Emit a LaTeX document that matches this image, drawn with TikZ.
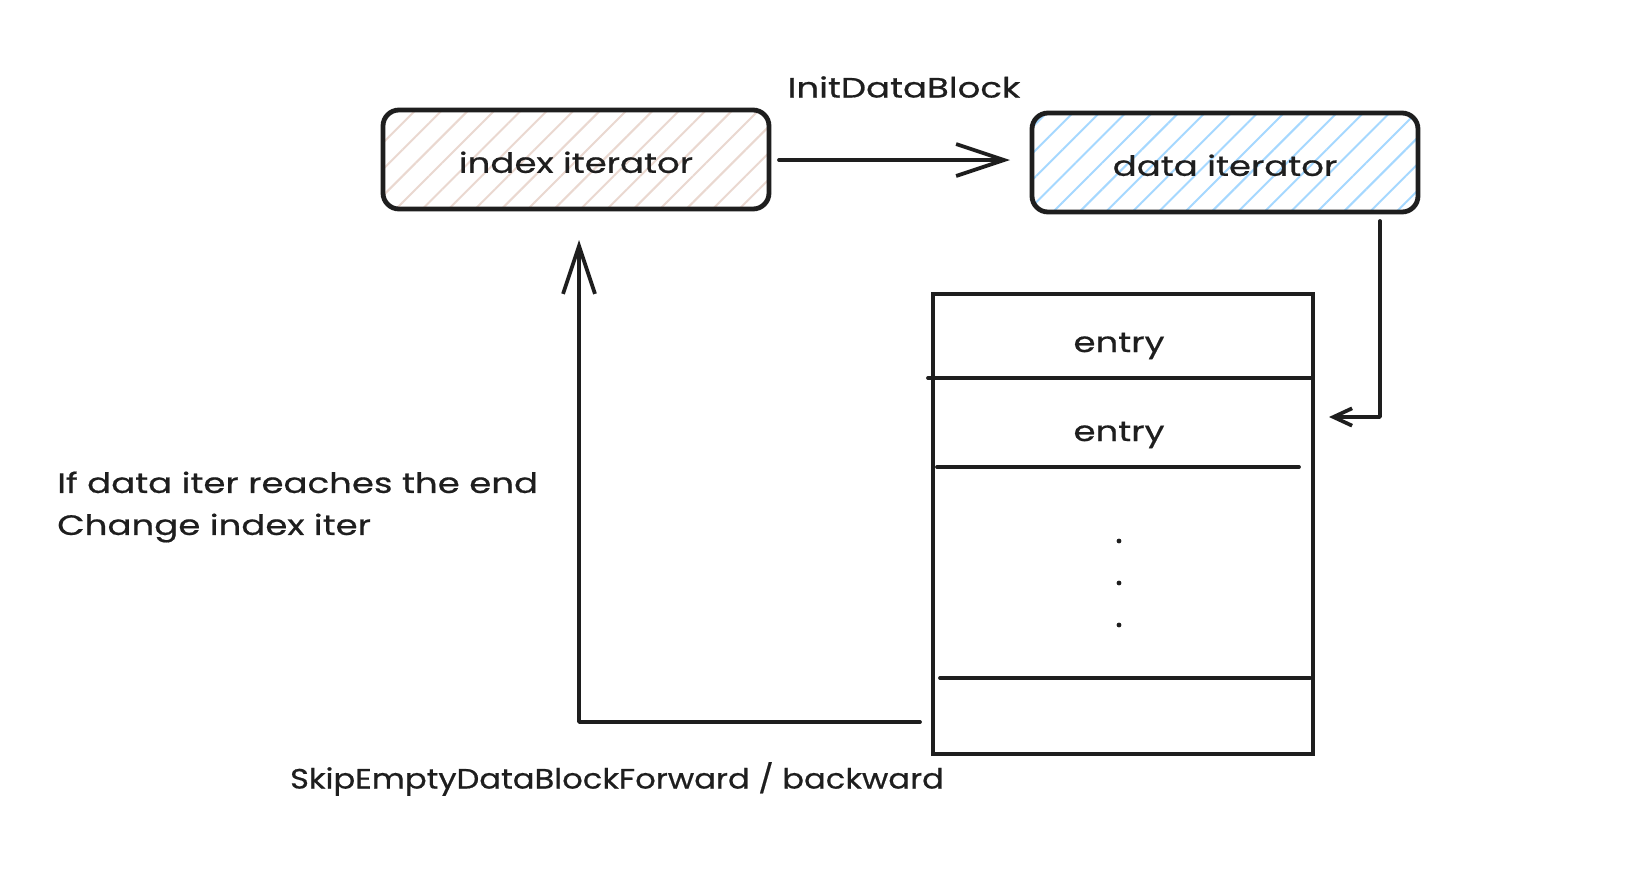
\documentclass[tikz,border=0pt]{standalone}
\usepackage{fontspec}
\setmainfont{Poppins}[FakeStretch=1.27, FakeBold=0.6]
\newfontfamily\narrowhand{Poppins}[FakeStretch=1.15, FakeBold=0.6]
\usetikzlibrary{arrows.meta,patterns.meta,calc}
\definecolor{hpink}{HTML}{EAD8D0}
\definecolor{hblue}{HTML}{A5D8FF}
\definecolor{ink}{HTML}{1E1E1E}
\tikzset{
  itbox/.style={draw=ink, line width=3.6pt, rounded corners=12pt, minimum width=289.5pt,
    minimum height=74.25pt, inner sep=0pt, outer sep=0pt,
    font=\fontsize{21}{26}\selectfont, text=ink},
  hatch/.style={pattern={Lines[angle=45,distance=14pt,line width=1.5pt]}, pattern color=#1},
  tblbox/.style={draw=ink, line width=2.8pt, minimum width=285pt, minimum height=345pt,
    inner sep=0pt, outer sep=0pt},
  lbl/.style={font=\fontsize{21}{31.5}\selectfont, text=ink, inner sep=0pt},
  divider/.style={draw=ink, line width=2.8pt, line cap=round},
  arr/.style={draw=ink, line width=2.8pt, line cap=round, line join=round},
  bigtip/.style={-{Straight Barb[length=36pt,width=24pt]}},
  smalltip/.style={-{Straight Barb[length=14pt,width=13pt]}}
}
\begin{document}
\begin{tikzpicture}[x=0.75pt,y=-0.75pt]
\useasboundingbox[fill=white] (0,0) rectangle (1647,869);
% iterator boxes
\node[itbox, hatch=hpink] (idx) at (576,159.5) {\smash{\raisebox{-10pt}{index iterator}}};
\node[itbox, hatch=hblue] (data) at (1225,162.5) {\smash{\raisebox{-10pt}{data iterator}}};
% table
\node[tblbox] (tbl) at (1123,524) {};
\draw[divider] ($(tbl.north west)+(-5,84)$) -- ($(tbl.north east)+(-2,84)$);
\draw[divider] ($(tbl.north west)+(4,173)$) -- ($(tbl.north east)+(-14,173)$);
\draw[divider] ($(tbl.north west)+(7,384)$) -- ($(tbl.north east)+(-3,384)$);
\node[lbl] (e1) at (1119,346) {entry};
\node[lbl] (e2) at (1119,435) {entry};
\fill[ink] (1119,541) circle (2.4);
\fill[ink] (1119,583) circle (2.4);
\fill[ink] (1119,625) circle (2.4);
% connectors
\draw[arr, bigtip] ($(idx.east)+(10,0.5)$) -- ($(data.west)+(-22,-2.5)$);
\node[lbl] (init) at (904,87) {InitDataBlock};
\draw[arr, smalltip] ($(data.south east)+(-38,9)$) |- ($(tbl.east)+(16,-107)$);
\draw[arr, bigtip] ($(tbl.south west)+(-13,-32)$) -| ($(idx.south)+(3,31)$);
% labels
\node[lbl, anchor=west, align=left] (note) at (57,507) {If data iter reaches the end\\Change index iter};
\node[lbl, font=\narrowhand\fontsize{21}{31.5}\selectfont] (skip) at (617,779) {SkipEmptyDataBlockForward / backward};
\end{tikzpicture}
\end{document}
